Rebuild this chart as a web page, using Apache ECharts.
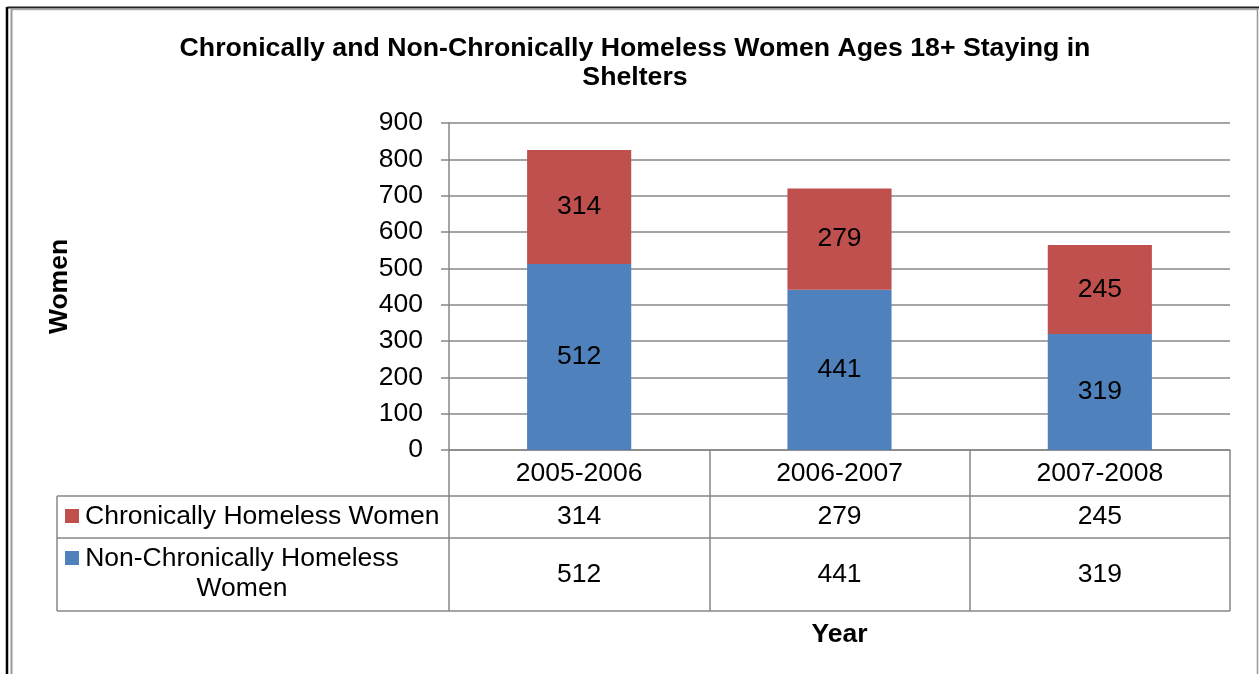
<!DOCTYPE html>
<html><head><meta charset="utf-8">
<script src="https://cdn.jsdelivr.net/npm/echarts@6/dist/echarts.min.js"></script>
<style>html,body{margin:0;padding:0;background:#fff}#c{width:1259px;height:674px}</style>
</head><body><div id="c"></div>
<script>
const categories = ['2005-2006', '2006-2007', '2007-2008'];
const chronic = [314, 279, 245];
const nonChronic = [512, 441, 319];
const seriesNames = ['Chronically Homeless Women', 'Non-Chronically Homeless\nWomen'];
const yTicks = [0, 100, 200, 300, 400, 500, 600, 700, 800, 900];

const FONT = '"Liberation Sans", Arial, sans-serif';
const FS = 26.5;
const GRAY = '#878787';
const chart = echarts.init(document.getElementById('c'), null, {renderer: 'canvas'});

const base = {
  animation: false,
  title: {
    text: 'Chronically and Non-Chronically Homeless Women Ages 18+ Staying in\nShelters',
    left: 630, top: 29, textAlign: 'center',
    textStyle: {fontFamily: FONT, fontSize: 26.7, fontWeight: 'bold', color: '#000', lineHeight: 29}
  },
  grid: {left: 449, right: 29, top: 123, bottom: 224, containLabel: false},
  xAxis: {
    type: 'category', data: categories,
    name: 'Year', nameLocation: 'middle', nameGap: 171,
    nameTextStyle: {fontFamily: FONT, fontSize: FS, fontWeight: 'bold', color: '#000'},
    axisLine: {show: true, lineStyle: {color: GRAY, width: 1.5}},
    axisTick: {show: true, length: 161, lineStyle: {color: GRAY, width: 1.5}},
    axisLabel: {margin: 10, fontFamily: FONT, fontSize: FS, color: '#000'}
  },
  yAxis: {
    type: 'value', min: yTicks[0], max: yTicks[yTicks.length - 1], interval: 100,
    name: 'Women', nameLocation: 'middle', nameGap: 376, nameRotate: 90,
    nameTextStyle: {fontFamily: FONT, fontSize: FS, fontWeight: 'bold', color: '#000'},
    axisLine: {show: true, lineStyle: {color: GRAY, width: 1.5}},
    axisTick: {show: true, length: 8, lineStyle: {color: GRAY, width: 1.5}},
    axisLabel: {margin: 26, fontFamily: FONT, fontSize: FS, color: '#000'},
    splitLine: {show: true, lineStyle: {color: GRAY, width: 1.5}}
  },
  series: [
    {name: seriesNames[1], type: 'bar', stack: 'a', data: nonChronic, barWidth: '40%',
     itemStyle: {color: '#4F81BD'},
     label: {show: true, position: 'inside', fontFamily: FONT, fontSize: FS, color: '#000'}},
    {name: seriesNames[0], type: 'bar', stack: 'a', data: chronic, barWidth: '40%',
     itemStyle: {color: '#C0504D'},
     label: {show: true, position: 'inside', fontFamily: FONT, fontSize: FS, color: '#000'}}
  ]
};
chart.setOption(base);

// Data table built from the axis scales
const c0 = chart.convertToPixel({xAxisIndex: 0}, 0);
const c1 = chart.convertToPixel({xAxisIndex: 0}, 1);
const band = c1 - c0;
const y0 = chart.convertToPixel({yAxisIndex: 0}, 0);
const xLeftTable = 57;
const xRight = c0 + band * (categories.length - 0.5);
const r1 = y0 + 46, r2 = y0 + 88, r3 = y0 + 161;
const lineStyle = {stroke: GRAY, lineWidth: 1.5};
const g = [];
[r1, r2, r3].forEach(y => g.push({type: 'line', shape: {x1: xLeftTable, y1: y, x2: xRight, y2: y}, style: lineStyle, silent: true}));
g.push({type: 'line', shape: {x1: xLeftTable, y1: r1, x2: xLeftTable, y2: r3}, style: lineStyle, silent: true});
const txt = {fontFamily: FONT, fontSize: FS, fill: '#000'};
categories.forEach((cName, i) => {
  const cx = chart.convertToPixel({xAxisIndex: 0}, i);
  g.push({type: 'text', x: cx, y: (r1 + r2) / 2, style: Object.assign({text: String(chronic[i]), align: 'center', verticalAlign: 'middle'}, txt)});
  g.push({type: 'text', x: cx, y: (r2 + r3) / 2, style: Object.assign({text: String(nonChronic[i]), align: 'center', verticalAlign: 'middle'}, txt)});
});
// legend keys
g.push({type: 'rect', shape: {x: 65, y: (r1 + r2) / 2 - 8, width: 14, height: 14}, style: {fill: '#C0504D'}});
g.push({type: 'text', x: 85, y: (r1 + r2) / 2, style: Object.assign({text: seriesNames[0], align: 'left', verticalAlign: 'middle'}, txt)});
g.push({type: 'rect', shape: {x: 65, y: r2 + 13, width: 14, height: 14}, style: {fill: '#4F81BD'}});
g.push({type: 'text', x: 242, y: (r2 + r3) / 2 - 1, style: Object.assign({text: seriesNames[1], align: 'center', verticalAlign: 'middle', lineHeight: 30}, txt)});
// outer frame
g.push({type: 'line', shape: {x1: 7, y1: 7.5, x2: 1259, y2: 7.5}, style: {stroke: '#222', lineWidth: 2}});
g.push({type: 'line', shape: {x1: 11, y1: 9.5, x2: 1257, y2: 9.5}, style: {stroke: '#aaa', lineWidth: 1.5}});
g.push({type: 'line', shape: {x1: 7, y1: 7, x2: 7, y2: 674}, style: {stroke: '#000', lineWidth: 2.5}});
g.push({type: 'line', shape: {x1: 11.5, y1: 9, x2: 11.5, y2: 674}, style: {stroke: '#999', lineWidth: 2}});
g.push({type: 'line', shape: {x1: 1257.5, y1: 9, x2: 1257.5, y2: 674}, style: {stroke: '#999', lineWidth: 1.5}});
chart.setOption({graphic: g});
</script></body></html>
